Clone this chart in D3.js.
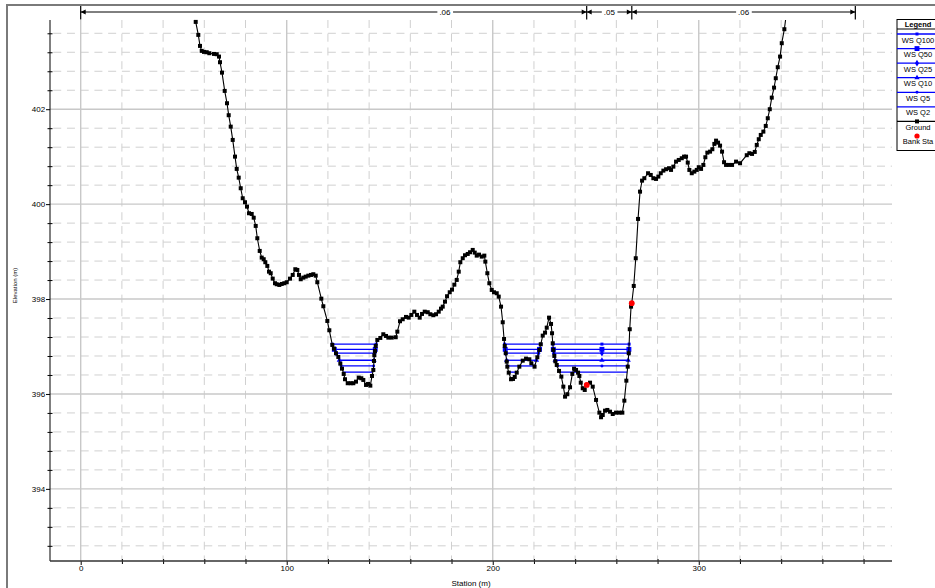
<!DOCTYPE html>
<html><head><meta charset="utf-8">
<script src="https://cdn.jsdelivr.net/npm/d3@7"></script>
<style>
body{margin:0;background:#fff}
svg{display:block}
text{font-family:"Liberation Sans",Arial,sans-serif}
</style>
</head><body>
<svg id="c" width="935" height="588"></svg>
<script>
// ---------------- DATA ----------------
const groundStation = [
55.83,57.09,57.91,58.74,59.85,61.17,62.43,64.71,66.02,67.14,
67.62,68.59,69.90,71.02,71.84,72.82,73.79,74.90,75.73,76.70,
77.67,78.64,79.76,80.73,81.70,83.01,83.98,84.95,85.73,86.89,
87.86,88.83,89.61,90.58,91.41,92.23,93.20,94.32,95.15,96.41,
97.57,98.83,100.00,101.60,102.91,104.17,105.15,105.97,106.80,108.06,
109.22,110.49,111.80,112.91,114.08,114.85,
116.80,117.77,119.71,120.68,122.14,122.96,123.93,125.05,126.02,126.84,
127.67,128.30,129.61,131.07,132.33,133.64,134.95,136.21,137.18,138.50,
139.47,140.58,141.41,142.04,142.38,142.52,142.86,143.20,143.98,145.44,
146.89,148.20,149.32,150.97,152.91,153.69,155.00,156.31,157.91,159.22,
160.49,161.94,163.25,164.56,165.68,166.99,168.45,169.71,171.17,172.48,
173.79,174.90,175.73,176.84,177.82,179.13,180.24,181.36,182.52,183.50,
184.27,185.44,186.55,187.86,188.98,190.29,191.26,192.23,193.35,194.66,
195.92,196.41,197.38,198.35,199.51,200.63,201.94,202.91,204.03,204.85,
205.49,205.83,206.31,206.80,207.09,207.77,208.88,209.85,210.68,211.65,
212.91,214.56,216.17,217.77,218.74,220.29,221.65,222.62,223.30,224.27,
225.39,226.21,227.33,228.30,228.79,229.13,229.42,229.90,230.39,231.07,
232.18,233.30,234.27,235.10,236.21,237.52,238.64,239.47,240.44,241.41,
242.04,242.72,243.69,244.66,245.63,247.23,248.54,250.15,251.75,252.57,
253.40,254.51,255.63,256.94,258.25,259.85,261.46,262.91,263.88,264.85,
265.53,266.02,266.50,267.14,267.48,268.45,269.42,270.53,271.50,272.48,
273.59,275.39,276.70,277.96,279.27,280.39,281.55,282.82,284.13,285.58,
286.55,287.67,288.98,290.29,291.75,292.86,293.83,294.66,295.44,296.60,
297.86,299.03,300.00,301.12,302.23,303.20,304.17,305.49,306.60,307.57,
308.40,309.37,310.34,311.31,312.28,313.25,314.56,316.17,318.11,320.05,
323.30,324.56,325.87,327.18,328.16,329.13,330.10,331.36,332.52,333.50,
334.47,335.44,336.55,337.38,338.35,339.47,340.29,341.55,
342.80];
const groundElev = [
403.840,403.566,403.334,403.229,403.208,403.201,403.180,403.165,403.159,403.109,
402.990,402.771,402.386,402.126,401.874,401.633,401.353,401.001,400.742,400.558,
400.335,400.124,400.040,399.947,399.808,399.793,399.715,399.541,399.281,399.014,
398.873,398.839,398.776,398.698,398.577,398.544,398.430,398.333,398.312,398.297,
398.318,398.333,398.354,398.430,398.508,398.628,398.613,398.508,398.417,398.451,
398.472,398.493,398.508,398.523,398.493,398.354,
398.008,397.848,397.538,397.342,397.033,396.955,396.858,396.780,396.639,396.533,
396.422,396.310,396.226,396.226,396.226,396.259,396.344,396.331,396.295,396.190,
396.211,396.175,396.379,396.506,396.695,396.816,396.906,397.012,397.138,397.180,
397.258,397.222,397.187,397.187,397.195,397.313,397.532,397.574,397.623,397.608,
397.665,397.734,397.665,397.608,397.686,397.734,397.722,397.680,397.659,397.680,
397.734,397.798,397.840,397.945,398.059,398.143,398.198,398.303,398.403,398.577,
398.776,398.860,398.923,398.950,398.986,399.035,398.978,398.915,398.936,398.894,
398.915,398.788,398.544,398.333,398.192,398.143,398.122,398.051,397.840,397.511,
397.159,397.012,396.858,396.681,396.575,396.449,396.310,396.316,396.358,396.449,
396.575,396.702,396.744,396.731,396.647,396.575,396.773,396.927,397.047,397.229,
397.292,397.397,397.608,397.475,397.279,397.068,396.927,396.801,396.689,396.611,
396.485,396.365,396.154,395.943,395.994,396.141,396.422,396.533,396.506,396.449,
396.379,396.238,396.120,396.084,396.190,396.238,396.154,395.874,395.606,395.509,
395.557,395.648,395.663,395.627,395.578,395.606,395.606,395.606,395.859,396.280,
396.575,396.858,397.364,397.840,397.912,398.276,398.860,399.688,400.263,400.495,
400.546,400.651,400.615,400.546,400.531,400.580,400.651,400.706,400.736,400.757,
400.721,400.790,400.896,400.931,400.967,401.001,401.001,400.875,400.721,400.651,
400.685,400.721,400.778,400.742,400.826,400.988,401.085,401.106,401.157,401.269,
401.338,401.296,401.233,401.106,400.883,400.826,400.826,400.826,400.896,400.862,
401.031,401.073,401.058,401.100,401.248,401.368,401.458,401.528,401.648,401.810,
402.000,402.244,402.455,402.653,402.885,403.109,403.391,403.686,
404.100];

const bankStation = [245.63, 267.48];
const bankElev    = [396.190, 397.912];

const profileNames = ["WS Q100","WS Q50","WS Q25","WS Q10","WS Q5","WS Q2"];
const wsElev       = [397.05, 396.94, 396.86, 396.71, 396.59, 396.46];
const wsMidMarkStation = [253.0];
const islandTolerance = 0.3;

const nBreaks       = [0, 245.6, 267.5, 376.0];
const nValues       = [".06", ".05", ".06"];
const nLabelStation = [176.8, 256.6, 321.8];

const xTickValues = [0, 100, 200, 300];
const yTickValues = [394, 396, 398, 400, 402];
const xMinorStep = 20, yMinorStep = 0.4;
const xTitle = "Station (m)", yTitle = "Elevation (m)";
const legendTitle = "Legend";

// ---------------- SETUP ----------------
const P = {left:50, right:892, top:20, bottom:561};
const x = d3.scaleLinear().domain([-14.9, 393.8]).range([P.left, P.right]);
const y = d3.scaleLinear().domain([392.48, 403.88]).range([P.bottom, P.top]);
const svg = d3.select("#c");
const FONT = '"Liberation Sans",Arial,sans-serif';
const gridCol = "#d0d0d0";
const gridMajCol = "#c8c8c8";

// outer frame
svg.append("rect").attr("x",7).attr("y",5).attr("width",950).attr("height",600)
  .attr("fill","none").attr("stroke","#7a7a7a").attr("stroke-width",2);

svg.append("defs").append("clipPath").attr("id","plotclip")
  .append("rect").attr("x",P.left).attr("y",P.top)
  .attr("width",P.right-P.left).attr("height",P.bottom-P.top);

// minor tick values
const xMinor = d3.range(0, x.domain()[1], xMinorStep).filter(v => !xTickValues.includes(v));
const yMinor = d3.range(Math.ceil(y.domain()[0]/yMinorStep), Math.floor(y.domain()[1]/yMinorStep)+1)
  .map(k => +(k*yMinorStep).toFixed(1)).filter(v => !yTickValues.includes(v));

// ---------------- GRID ----------------
const grid = svg.append("g");
grid.selectAll(".vmin").data(xMinor).join("line")
  .attr("x1",d=>x(d)).attr("x2",d=>x(d)).attr("y1",P.top).attr("y2",P.bottom)
  .attr("stroke",gridCol).attr("stroke-width",1).attr("stroke-dasharray","8,5.73");
grid.selectAll(".hmin").data(yMinor).join("line")
  .attr("x1",P.left).attr("x2",P.right).attr("y1",d=>y(d)).attr("y2",d=>y(d))
  .attr("stroke",gridCol).attr("stroke-width",1).attr("stroke-dasharray","8,5.73")
  .attr("stroke-dashoffset",10.5);
grid.selectAll(".vmaj").data(xTickValues).join("line")
  .attr("x1",d=>x(d)).attr("x2",d=>x(d)).attr("y1",P.top).attr("y2",P.bottom)
  .attr("stroke",gridMajCol).attr("stroke-width",1.4);
grid.selectAll(".hmaj").data(yTickValues).join("line")
  .attr("x1",P.left).attr("x2",P.right).attr("y1",d=>y(d)).attr("y2",d=>y(d))
  .attr("stroke",gridMajCol).attr("stroke-width",1.4);

// ---------------- AXES ----------------
const yAx = svg.append("g").attr("transform",`translate(${P.left},0)`)
  .call(d3.axisLeft(y).tickValues(yTickValues).tickSize(4).tickPadding(0.8).tickFormat(d3.format("d")));
const yMinL = svg.append("g").attr("transform",`translate(${P.left},0)`)
  .call(d3.axisLeft(y).tickValues(yMinor).tickSize(2.5).tickFormat(""));
const yMinR = svg.append("g").attr("transform",`translate(${P.left},0)`)
  .call(d3.axisRight(y).tickValues(yMinor).tickSize(2.5).tickFormat(""));
const xAx = svg.append("g").attr("transform",`translate(0,${P.bottom})`)
  .call(d3.axisBottom(x).tickValues(xTickValues).tickSize(4).tickPadding(0.6).tickFormat(d3.format("d")));
const xMinB = svg.append("g").attr("transform",`translate(0,${P.bottom})`)
  .call(d3.axisBottom(x).tickValues(xMinor).tickSize(3).tickFormat(""));
const xMinT = svg.append("g").attr("transform",`translate(0,${P.bottom})`)
  .call(d3.axisTop(x).tickValues(xMinor).tickSize(2).tickFormat(""));
[yAx,yMinL,yMinR,xAx,xMinB,xMinT].forEach(g=>{
  g.select(".domain").remove();
  g.selectAll("line").attr("stroke","#000").attr("stroke-width",1);
  g.selectAll("text").attr("font-family",FONT).attr("font-size",8).attr("fill","#000");
});
svg.append("line").attr("x1",P.left).attr("x2",P.left).attr("y1",P.top).attr("y2",P.bottom)
  .attr("stroke","#000").attr("stroke-width",1);
svg.append("line").attr("x1",P.left).attr("x2",P.right).attr("y1",P.bottom).attr("y2",P.bottom)
  .attr("stroke","#333").attr("stroke-width",1.6);

svg.append("text").attr("x",(P.left+P.right)/2).attr("y",586).attr("text-anchor","middle")
  .attr("font-family",FONT).attr("font-size",8).text(xTitle);
svg.append("text").attr("transform",`translate(17,${(P.top+P.bottom)/2-5}) rotate(-90)`)
  .attr("text-anchor","middle").attr("font-family",FONT).attr("font-size",6).text(yTitle);

// ---------------- MANNING n BAR ----------------
const nb = svg.append("g");
const nY = 12;
nb.append("line").attr("x1",x(nBreaks[0])).attr("x2",x(nBreaks[nBreaks.length-1]))
  .attr("y1",nY).attr("y2",nY).attr("stroke","#000").attr("stroke-width",1);
nb.selectAll(".brk").data(nBreaks).join("line")
  .attr("x1",d=>x(d)).attr("x2",d=>x(d)).attr("y1",6).attr("y2",19.5)
  .attr("stroke","#000").attr("stroke-width",1.2);
nValues.forEach((v,i)=>{
  const a = x(nBreaks[i]), b = x(nBreaks[i+1]);
  nb.append("path").attr("d",`M${a},${nY}L${a+5},${nY-2.5}L${a+5},${nY+2.5}Z`).attr("fill","#000");
  nb.append("path").attr("d",`M${b},${nY}L${b-5},${nY-2.5}L${b-5},${nY+2.5}Z`).attr("fill","#000");
  const cx = x(nLabelStation[i]);
  const t = nb.append("text").attr("x",cx).attr("y",nY+3).attr("text-anchor","middle")
    .attr("font-family",FONT).attr("font-size",8).text(v);
  const bb = t.node().getBBox();
  nb.insert("rect","text").attr("x",bb.x-2).attr("y",nY-3).attr("width",bb.width+4).attr("height",6).attr("fill","#fff");
});

// ---------------- WATER SURFACES ----------------
const gIdx = d3.range(groundStation.length);
function wetSegments(w){
  const segs=[]; let start=null;
  for(let i=0;i<gIdx.length-1;i++){
    const s0=groundStation[i], e0=groundElev[i], s1=groundStation[i+1], e1=groundElev[i+1];
    const b0=e0<w, b1=e1<w;
    if(!b0 && b1) start = s0+(w-e0)/(e1-e0)*(s1-s0);
    if(b0 && !b1 && start!==null){ segs.push([start, s0+(w-e0)/(e1-e0)*(s1-s0)]); start=null; }
  }
  const merged=[];
  segs.forEach(sg=>{
    if(merged.length){
      const prev=merged[merged.length-1];
      const peak=d3.max(gIdx.filter(i=>groundStation[i]>prev[1]&&groundStation[i]<sg[0]), i=>groundElev[i]);
      if(peak - w < islandTolerance){ prev[1]=sg[1]; return; }
    }
    merged.push(sg.slice());
  });
  return merged;
}
const wsMarkers = [
  d3.symbol().type(d3.symbolSquare).size(9),
  d3.symbol().type(d3.symbolSquare).size(24),
  d3.symbol().type(d3.symbolDiamond).size(14),
  d3.symbol().type(d3.symbolTriangle).size(12),
  d3.symbol().type(d3.symbolCircle).size(7),
  null
];
const blue = "#0000ff";
const ws = svg.append("g");
wsElev.forEach((w,pi)=>{
  const segs = wetSegments(w);
  ws.selectAll(null).data(segs).join("line")
    .attr("x1",d=>x(d[0])).attr("x2",d=>x(d[1])).attr("y1",y(w)).attr("y2",y(w))
    .attr("stroke",blue).attr("stroke-width",1.3);
  if(wsMarkers[pi]){
    const pts=[];
    segs.forEach(s=>{ pts.push(s[0],s[1]); wsMidMarkStation.forEach(m=>{ if(m>s[0]&&m<s[1]) pts.push(m); }); });
    ws.selectAll(null).data(pts).join("path").attr("d",wsMarkers[pi])
      .attr("transform",d=>`translate(${x(d)},${y(w)})`).attr("fill",blue);
  }
});

// ---------------- GROUND ----------------
const line = d3.line().x(i=>x(groundStation[i])).y(i=>y(groundElev[i]));
svg.append("path").attr("d",line(gIdx)).attr("clip-path","url(#plotclip)")
  .attr("fill","none").attr("stroke","#000").attr("stroke-width",1.1);
const gSym = d3.symbol().type(d3.symbolSquare).size(16);
svg.append("g").selectAll("path").data(gIdx.filter(i=>groundElev[i]<=y.domain()[1]))
  .join("path").attr("d",gSym).attr("transform",i=>`translate(${x(groundStation[i])},${y(groundElev[i])})`)
  .attr("fill","#000");

// bank stations
svg.append("g").selectAll("circle").data(d3.range(bankStation.length)).join("circle")
  .attr("cx",i=>x(bankStation[i])).attr("cy",i=>y(bankElev[i])).attr("r",2.9).attr("fill","#ff0000");

// ---------------- LEGEND ----------------
const L = {x:897, y:19.5, w:42, h:131};
const lg = svg.append("g");
lg.append("rect").attr("x",L.x).attr("y",L.y).attr("width",L.w).attr("height",L.h)
  .attr("fill","#fff").attr("stroke","#000").attr("stroke-width",1);
const lcx = L.x + L.w/2;
lg.append("text").attr("x",lcx).attr("y",27).attr("text-anchor","middle")
  .attr("font-family",FONT).attr("font-size",7.5).attr("font-weight","bold").text(legendTitle);
lg.append("line").attr("x1",L.x).attr("x2",L.x+L.w).attr("y1",29).attr("y2",29).attr("stroke","#000");
const legendItems = profileNames.map((n,i)=>({name:n, color:blue, sym:wsMarkers[i], line:true}))
  .concat([{name:"Ground", color:"#000", sym:gSym, line:true},{name:"Bank Sta", color:"#ff0000", sym:null, dot:true}]);
legendItems.forEach((it,i)=>{
  const ly = 34 + i*14.57;
  if(it.line) lg.append("line").attr("x1",L.x).attr("x2",L.x+L.w).attr("y1",ly).attr("y2",ly)
    .attr("stroke",it.color).attr("stroke-width",1.3);
  if(it.sym) lg.append("path").attr("d",it.sym).attr("transform",`translate(${lcx-1},${ly})`).attr("fill",it.color);
  if(it.dot) lg.append("circle").attr("cx",lcx-1).attr("cy",ly).attr("r",2.6).attr("fill",it.color);
  lg.append("text").attr("x",lcx).attr("y",ly+8.5).attr("text-anchor","middle")
    .attr("font-family",FONT).attr("font-size",7.5).text(it.name);
});
</script>
</body></html>
